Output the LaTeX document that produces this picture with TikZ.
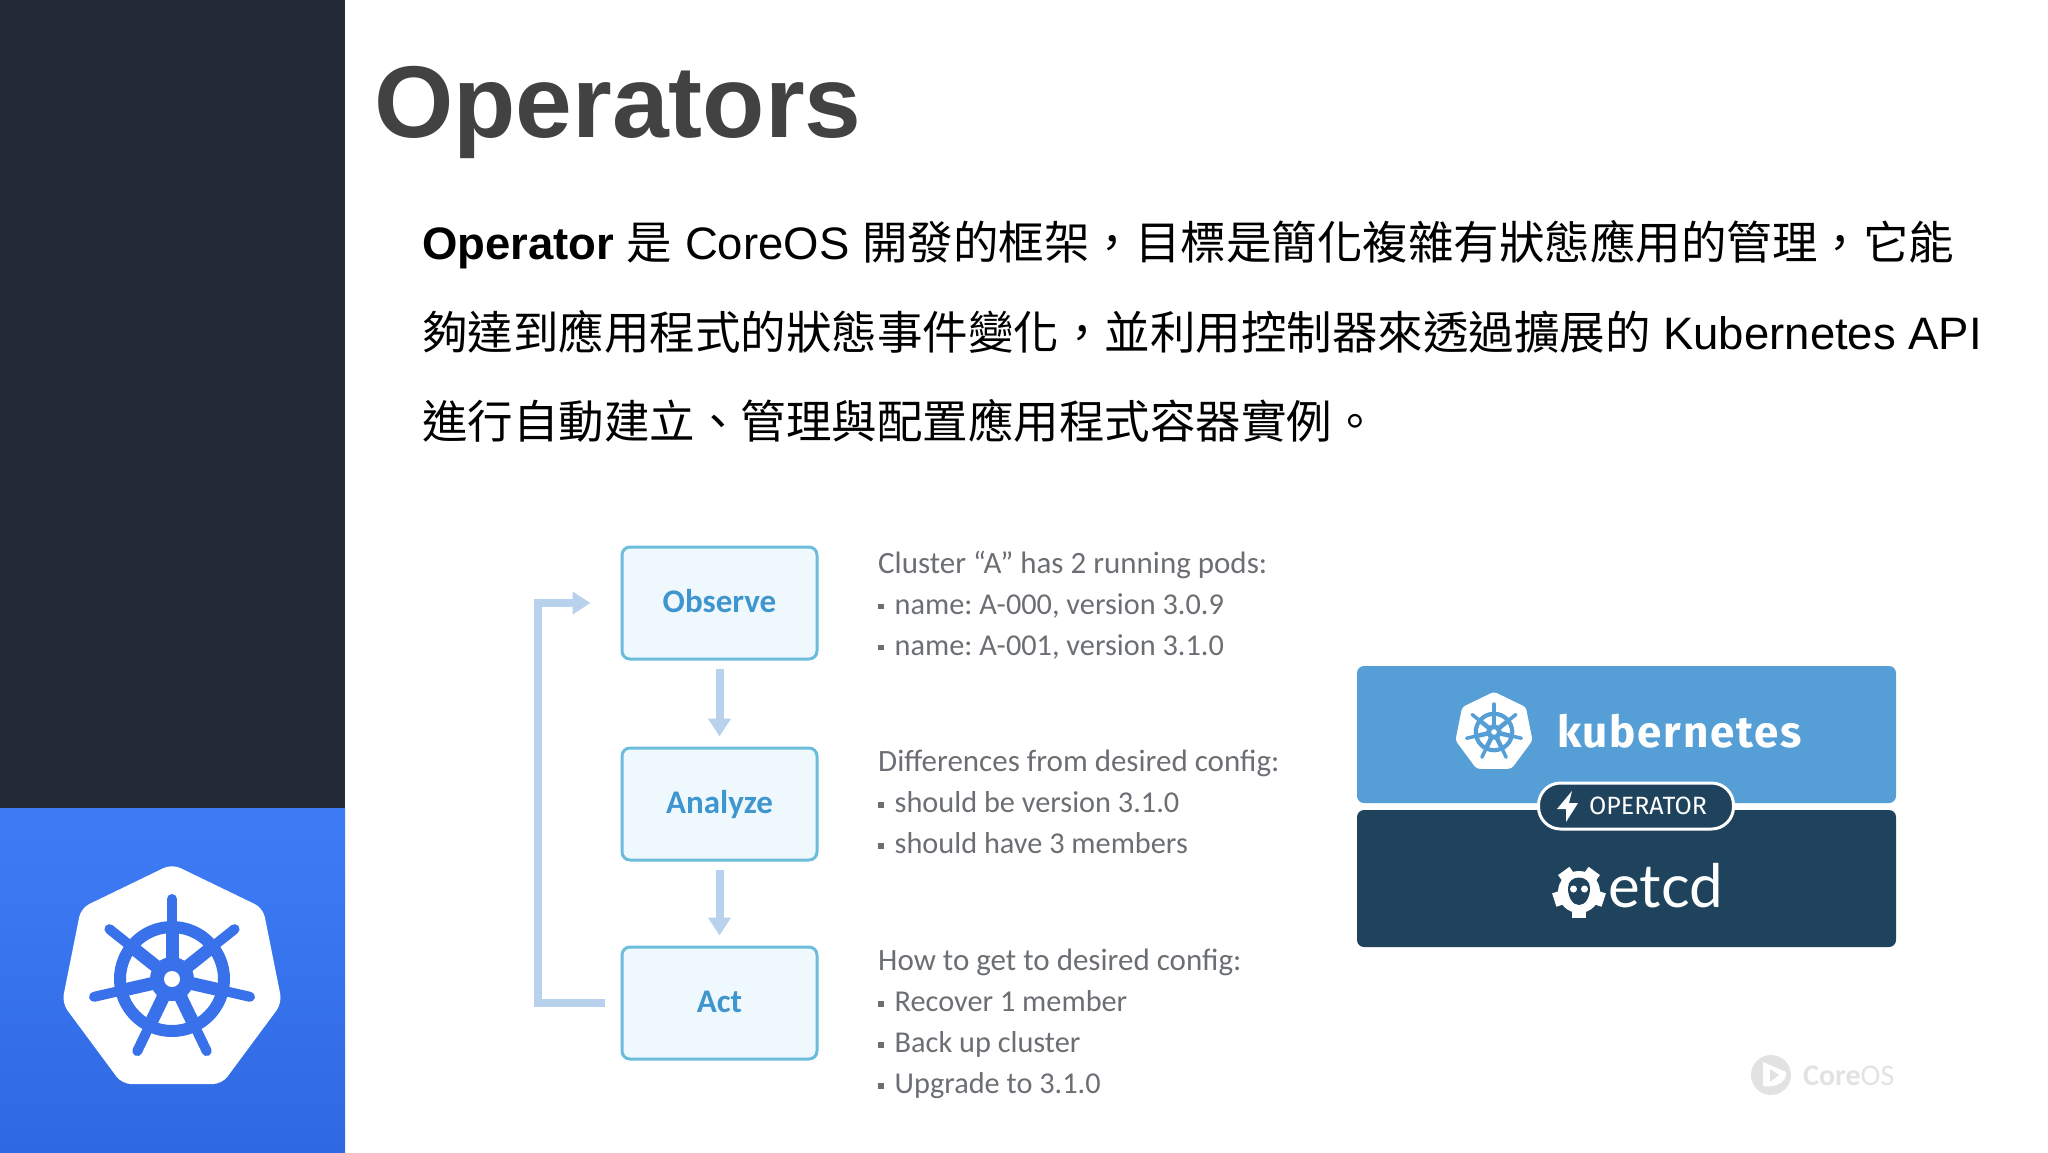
\documentclass[tikz,border=0pt]{standalone}
\usepackage{fontspec}
\usepackage{xcolor}
\usetikzlibrary{arrows.meta, positioning, calc}
\setmainfont{Liberation Sans}
\newfontfamily\cjk{Noto Sans CJK TC}
\newfontfamily\flowfont{Carlito}
\newfontfamily\logofont{Fira Sans}[LetterSpace=4]
\newfontfamily\opfont{Fira Sans}
\newfontfamily\etcdfont{Lato}
\definecolor{sidedark}{RGB}{35, 42, 54}
\definecolor{sidetop}{RGB}{62, 124, 246}
\definecolor{sidebot}{RGB}{47, 105, 226}
\definecolor{helmblue}{RGB}{56, 113, 233}
\definecolor{titlegray}{RGB}{66, 66, 66}
\definecolor{notegray}{RGB}{107, 111, 115}
\definecolor{boxfill}{RGB}{239, 249, 253}
\definecolor{boxline}{RGB}{108, 188, 220}
\definecolor{boxtext}{RGB}{63, 150, 207}
\definecolor{flowblue}{RGB}{184, 210, 238}
\definecolor{kubeblue}{RGB}{85, 159, 214}
\definecolor{etcdblue}{RGB}{31, 67, 92}
\definecolor{wmgray}{RGB}{226, 226, 226}
\tikzset{
    stepbox/.style={draw=boxline, fill=boxfill, line width=3pt, rounded corners=8pt,
        minimum width=195pt, minimum height=112pt, inner sep=0pt, text=boxtext,
        text height=24pt, text depth=6pt,
        font=\flowfont\bfseries\fontsize{33}{36}\selectfont},
    flowarrow/.style={draw=flowblue, line width=8pt, -{Triangle[length=18pt, width=22pt]}},
    note/.style={anchor=north west, align=left, inner sep=0pt, text=notegray,
        font=\flowfont\frenchspacing\fontsize{31}{41}\selectfont},
    bodyline/.style={anchor=base west, inner sep=0pt, text=black, font=\fontsize{45.5}{46}\selectfont},
    layerbox/.style={rounded corners=7pt, minimum width=539pt, inner sep=0pt}
}
\newcommand{\bul}{\fontsize{30.3}{41}\selectfont\rule[0.17em]{5.5pt}{5.5pt}\hspace{11pt}}
% helm logo: centre, scale, plate colour, wheel colour
\newcommand{\kubelogo}[4]{
    \begin{scope}[shift={#1}, scale=#2]
        \fill[#3, rounded corners=#2*9pt] (0,-115) -- (91,-71) -- (110,24) -- (50,105)
            -- (-50,105) -- (-110,24) -- (-91,-71) -- cycle;
        \draw[#4, line width=#2*12pt] (0,0) circle (52);
        \foreach \a in {90,141.43,192.86,244.29,295.71,347.14,398.57} {
            \draw[#4, line width=#2*13pt] (0,0) -- ({cos(\a)*52},{-sin(\a)*52});
            \draw[#4, line width=#2*10pt, line cap=round] ({cos(\a)*52},{-sin(\a)*52}) -- ({cos(\a)*80},{-sin(\a)*80});
        }
        \fill[#4] (0,0) circle (22);
        \fill[#3] (0,0) circle (8);
    \end{scope}
}
\begin{document}
\begin{tikzpicture}[x=1pt, y=-1pt]
    \useasboundingbox (0,0) rectangle (2048,1152);
    % Side panel
    \fill[sidedark] (0,0) rectangle (345,808);
    \shade[top color=sidetop, bottom color=sidebot] (0,808) rectangle (345,1152);
    \kubelogo{(172,979)}{1}{white}{helmblue}

    \node[anchor=base west, inner sep=0pt, text=titlegray, font=\bfseries\fontsize{102}{102}\selectfont] (title) at (374,137) {Operators};

    % Body text
    \node[bodyline] (lineA) at (422,259) {\textbf{Operator} {\cjk 是} CoreOS {\cjk 開發的框架，目標是簡化複雜有狀態應用的管理，它能}};
    \node[bodyline] (lineB) at (422,349) {{\cjk 夠達到應用程式的狀態事件變化，並利用控制器來透過擴展的} Kubernetes API};
    \node[bodyline] (lineC) at (422,438) {{\cjk 進行自動建立、管理與配置應用程式容器實例。}};

    % Control loop
    \node[stepbox] (obs) at (719.5,603) {Observe};
    \node[stepbox] (ana) at (719.5,804) {Analyze};
    \node[stepbox] (act) at (719.5,1003) {Act};
    \draw[flowarrow, shorten <=8pt, shorten >=10pt] (obs) -- (ana);
    \draw[flowarrow, shorten <=8pt, shorten >=10pt] (ana) -- (act);
    \draw[flowarrow, shorten <=16pt, shorten >=30pt] (act.west) -- ++(-83,0) |- (obs.west);

    \node[note] (noteA) at (878,551) {Cluster “A” has 2 running pods:\\\bul name: A-000, version 3.0.9\\\bul name: A-001, version 3.1.0};
    \node[note] (noteB) at (878,750) {Differences from desired config:\\\bul should be version 3.1.0\\\bul should have 3 members};
    \node[note] (noteC) at (878,949) {How to get to desired config:\\\bul Recover 1 member\\\bul Back up cluster\\\bul Upgrade to 3.1.0};

    % Layer stack
    \node[layerbox, fill=kubeblue, minimum height=137pt] (kube) at (1626.5,734.5) {};
    \node[layerbox, fill=etcdblue, minimum height=137pt] (etcd) at (1626.5,878.5) {};
    \kubelogo{(1494,732)}{0.35}{white}{kubeblue}
    \node[anchor=base west, inner sep=0pt, text=white, font=\logofont\bfseries\fontsize{44}{44}\selectfont] (kubename) at (1557,747) {kubernetes};
    \node[draw=white, fill=etcdblue, line width=3pt, rounded corners=22pt, minimum width=195pt, minimum height=46pt] (pill) at (1636,806) {};
    \fill[white] (1572,791) -- (1557,809) -- (1566,809) -- (1566,822) -- (1578,803) -- (1569,803) -- cycle;
    \node[inner sep=0pt, anchor=base, text=white, font=\opfont\fontsize{25}{25}\selectfont] (opname) at (1648,814) {OPERATOR};

    % etcd gear
    \foreach \a in {36,108,180,252,324}
        \fill[white, rotate around={\a:(1579,892)}] (1572,866) rectangle (1586,880);
    \fill[white] (1579,892) circle (21);
    \fill[etcdblue] (1568,888) .. controls (1568,874) and (1590,874) .. (1590,888)
        .. controls (1590,898) and (1585,905) .. (1579,905) .. controls (1573,905) and (1568,898) .. (1568,888) -- cycle;
    \fill[white] (1573.5,889) circle (3.5) (1584.5,889) circle (3.5);
    \node[anchor=base west, inner sep=0pt, text=white, font=\etcdfont\fontsize{60}{60}\selectfont] (etcdname) at (1608,907) {etcd};

    % Watermark
    \fill[wmgray] (1771,1075) circle (20);
    \fill[white] (1763,1062) -- (1786,1072) .. controls (1787,1082) and (1776,1088) .. (1763,1086) -- cycle;
    \fill[wmgray] (1770,1069) -- (1779,1075) -- (1770,1082) -- cycle;
    \node[anchor=base west, inner sep=0pt, text=wmgray, font=\flowfont\fontsize{30}{30}\selectfont] (wmark) at (1803,1085) {\textbf{Core}OS};
\end{tikzpicture}
\end{document}
